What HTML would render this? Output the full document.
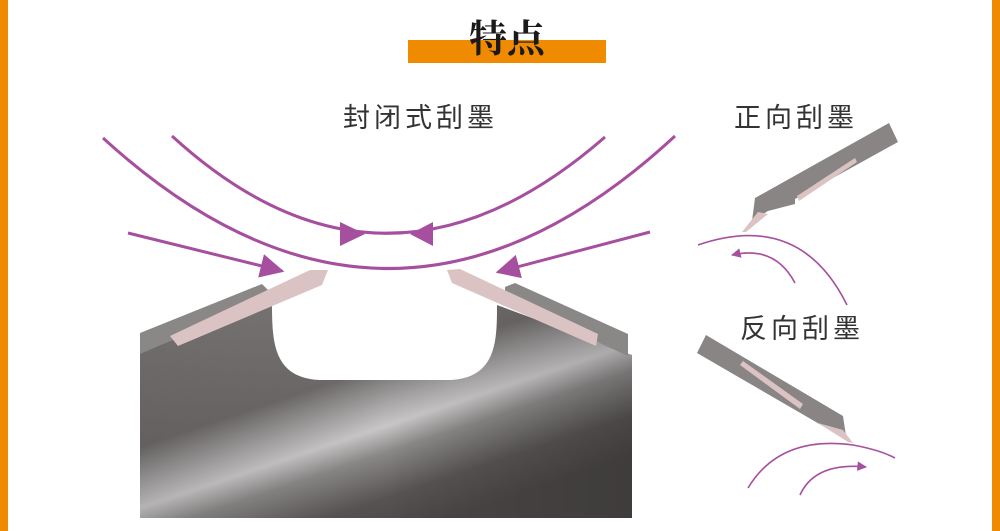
<!DOCTYPE html>
<html><head><meta charset="utf-8"><style>
html,body{margin:0;padding:0;background:#fff;}
svg{display:block;}
</style></head><body>
<svg width="1000" height="531" viewBox="0 0 1000 531" xmlns="http://www.w3.org/2000/svg">
<defs>
<linearGradient id="body" x1="330" y1="290" x2="410" y2="530" gradientUnits="userSpaceOnUse">
<stop offset="0" stop-color="#7a7676"/>
<stop offset="0.35" stop-color="#6e6a6a"/>
<stop offset="0.5" stop-color="#a9a7a7"/>
<stop offset="0.58" stop-color="#c8c6c6"/>
<stop offset="0.68" stop-color="#8a8787"/>
<stop offset="0.85" stop-color="#575353"/>
<stop offset="1" stop-color="#4a4646"/>
</linearGradient>
<linearGradient id="shade" x1="140" y1="0" x2="632" y2="0" gradientUnits="userSpaceOnUse">
<stop offset="0" stop-color="#000" stop-opacity="0.1"/>
<stop offset="0.5" stop-color="#000" stop-opacity="0"/>
<stop offset="1" stop-color="#000" stop-opacity="0.15"/>
</linearGradient>
<marker id="ah" viewBox="0 0 10 10" refX="9" refY="5" markerWidth="8" markerHeight="8" orient="auto"><path d="M0,0 L10,5 L0,10z" fill="#a64f9f"/></marker>
<marker id="as" viewBox="0 0 10 10" refX="9" refY="5" markerWidth="6" markerHeight="6" orient="auto"><path d="M0,0 L10,5 L0,10z" fill="#a64f9f"/></marker>
</defs>
<rect x="0" y="0" width="8" height="531" fill="#f08a00"/>
<rect x="992" y="0" width="8" height="531" fill="#f08a00"/>
<rect x="408" y="40" width="198" height="23" fill="#f08a00"/>
<text x="507" y="52" text-anchor="middle" font-family="'Noto Serif CJK SC',serif" font-weight="bold" font-size="38" fill="#1a1a1a">特点</text>
<g font-family="'Liberation Sans','Noto Sans CJK SC',sans-serif" font-size="27" fill="#333" letter-spacing="4">
<text x="343" y="127">封闭式刮墨</text>
<text x="734" y="127">正向刮墨</text>
<text x="740" y="338">反向刮墨</text>
</g>
<path d="M140,353 L272,300 C272,340 272,378 320,380 L450,380 C497,378 497,340 497,305 L632,355 L632,518 L140,518 Z" fill="url(#body)"/>
<path d="M140,353 L272,300 C272,340 272,378 320,380 L450,380 C497,378 497,340 497,305 L632,355 L632,518 L140,518 Z" fill="url(#shade)"/>
<path d="M140,333 L262,284 L274,296 L140,354Z" fill="#8a8787"/>
<path d="M170,336 L310,270 L328,270 L322,285 L178,346Z" fill="#dcc3c3"/>
<path d="M505,287 L515,283 L628,334 L628,356 L505,300Z" fill="#8a8787"/>
<path d="M447,270 L460,269 L598,334 L596,346 L452,283Z" fill="#dcc3c3"/>
<g fill="none" stroke="#a64f9f" stroke-width="3">
<path d="M103,138 Q390,400 675,136"/>
<path d="M172,136 Q384,330 605,137"/>
<path d="M128,233 L282,271" marker-end="url(#ah)"/>
<path d="M650,232 L498,272" marker-end="url(#ah)"/>
</g>
<path d="M340,222 L365,234 L340,246Z" fill="#a64f9f"/>
<path d="M433,222 L410,234 L433,246Z" fill="#a64f9f"/>
<path d="M752,221 L755,198 L889,123 L898,142 L795,199 L795,204 L768,211Z" fill="#898585"/>
<path d="M797,196 L855,158 L857,162 L799,201Z" fill="#dcc3c3"/>
<path d="M758,212 L742,232 L746,232 L768,214Z" fill="#dcc3c3"/>
<g fill="none" stroke="#a64f9f" stroke-width="1.6">
<path d="M698,245 Q800,210 847,305"/>
<path d="M795,283 Q775,245 732,255" marker-end="url(#as)"/>
<path d="M748,488 Q780,435 853,445 Q880,450 895,458"/>
<path d="M800,495 Q815,462 866,467" marker-end="url(#as)"/>
</g>
<path d="M697,353 L706,335 L843,416 L846,436 L828,429 Z" fill="#898585"/>
<path d="M740,365 L743,361 L803,404 L800,409Z" fill="#dcc3c3"/>
<path d="M818,423 L843,430 L853,443 L848,442Z" fill="#dcc3c3"/>
</svg>
</body></html>
